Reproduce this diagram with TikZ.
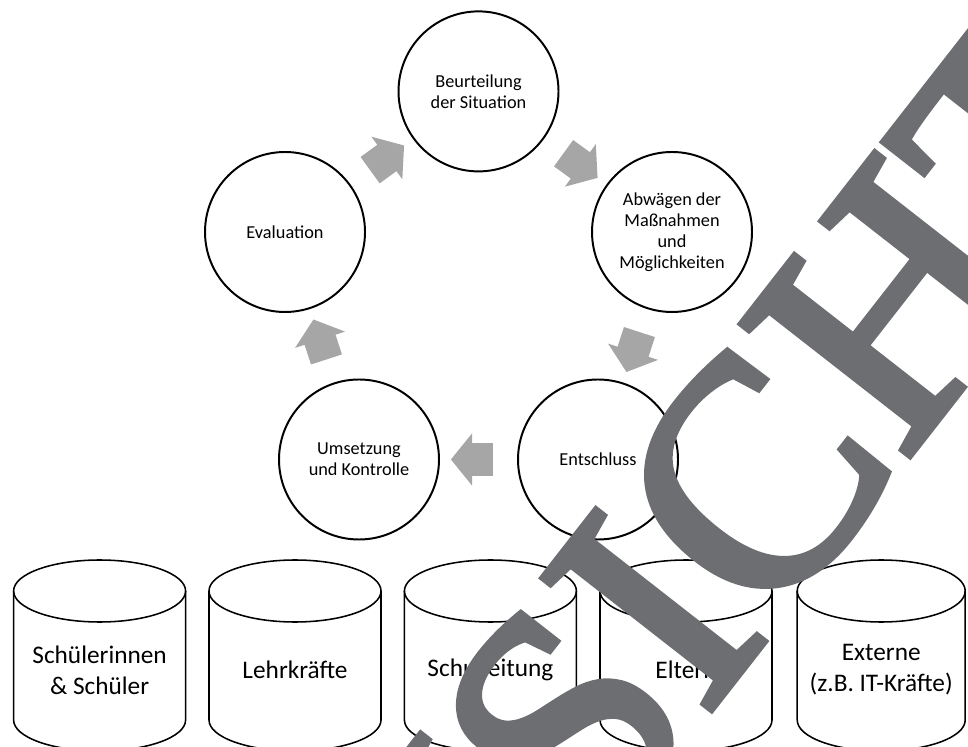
\documentclass[tikz,border=0pt]{standalone}
\usepackage{fontspec}
\setmainfont{Carlito}
\newfontfamily\markfont[FakeBold=2.5]{Liberation Serif}
\usetikzlibrary{positioning}
\usetikzlibrary{shapes.arrows, calc}

\definecolor{arrowgray}{HTML}{A6A6A6}
\definecolor{markgray}{HTML}{6D6E71}

\begin{document}
\begin{tikzpicture}[
  phase/.style={circle,draw=black,line width=1.4pt,minimum size=4cm,inner sep=0pt,align=center,font=\fontsize{13}{14.9}\selectfont},
  cycarrow/.style={single arrow,fill=arrowgray,draw=none,inner xsep=0pt,inner ysep=0.4cm,minimum height=1.05cm,minimum width=1.3cm,single arrow head extend=0.25cm,single arrow tip angle=102},
  cylline/.style={draw=black,line width=1.1pt},
  grouplabel/.style={align=center,font=\fontsize{18}{22}\selectfont}
]
\useasboundingbox (0,0) rectangle (24.2,18.65);
\clip (0,0) rectangle (24.2,18.65);

\node[phase] (beurt) at (11.9625,16.365) {Beurteilung\\der Situation};
\node[phase] (abw) at (16.8,12.85) {Abwägen der\\Maßnahmen\\und\\Möglichkeiten};
\node[phase] (ent) at (14.95,7.1625) {Entschluss};
\node[phase] (ums) at (8.975,7.1625) {Umsetzung\\und Kontrolle};
\node[phase] (eval) at (7.125,12.85) {Evaluation};

\node[cycarrow,rotate=36] (a1) at ($(eval)!0.5!(beurt)$) {};
\node[cycarrow,rotate=-36] (a2) at ($(beurt)!0.5!(abw)$) {};
\node[cycarrow,rotate=-108] (a3) at ($(abw)!0.5!(ent)$) {};
\node[cycarrow,rotate=180] (a4) at ($(ent)!0.5!(ums)$) {};
\node[cycarrow,rotate=108] (a5) at ($(ums)!0.5!(eval)$) {};

\draw[cylline] (2.49,3.875) ellipse [x radius=2.15, y radius=0.775];
\draw[cylline] (0.34,3.875) -- (0.34,0.65) arc[start angle=180, end angle=360, x radius=2.15, y radius=0.775] -- (4.64,3.875);
\node[grouplabel] (sus) at (2.49,1.9) {Schülerinnen\\\& Schüler};

\draw[cylline] (7.375,3.875) ellipse [x radius=2.15, y radius=0.775];
\draw[cylline] (5.225,3.875) -- (5.225,0.65) arc[start angle=180, end angle=360, x radius=2.15, y radius=0.775] -- (9.525,3.875);
\node[grouplabel] (lk) at (7.375,1.9) {Lehrkräfte};

\draw[cylline] (12.26,3.875) ellipse [x radius=2.15, y radius=0.775];
\draw[cylline] (10.11,3.875) -- (10.11,0.65) arc[start angle=180, end angle=360, x radius=2.15, y radius=0.775] -- (14.41,3.875);
\node[grouplabel] (sl) at (12.26,1.9) {Schulleitung};

\draw[cylline] (17.15,3.875) ellipse [x radius=2.15, y radius=0.775];
\draw[cylline] (15.0,3.875) -- (15.0,0.65) arc[start angle=180, end angle=360, x radius=2.15, y radius=0.775] -- (19.3,3.875);
\node[grouplabel] (el) at (17.15,1.9) {Eltern};

\draw[cylline] (22.03,3.875) ellipse [x radius=2.1, y radius=0.775];
\draw[cylline] (19.93,3.875) -- (19.93,0.65) arc[start angle=180, end angle=360, x radius=2.1, y radius=0.775] -- (24.13,3.875);
\node[grouplabel] (ext) at (22.03,1.9) {Externe\\(z.B. IT-Kräfte)};

% watermark over the whole picture
\node[text=markgray,rotate=52,inner sep=0pt,font=\markfont\fontsize{231}{231}\selectfont] (mark) at (16.35,3.4) {ANSICHT};

\end{tikzpicture}
\end{document}
